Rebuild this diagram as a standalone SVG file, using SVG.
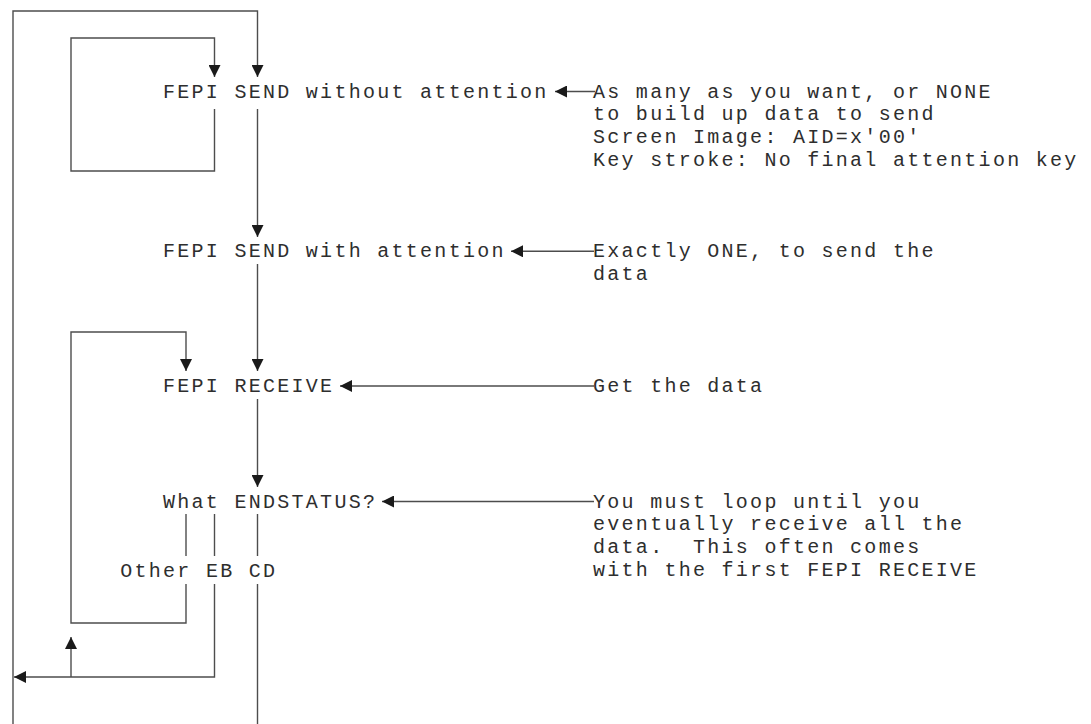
<svg xmlns="http://www.w3.org/2000/svg" width="1091" height="724" viewBox="0 0 1091 724">
<defs>
<style>
text{font-family:"Liberation Mono","DejaVu Sans Mono",monospace;font-size:20px;letter-spacing:2.28px;fill:#2e2e2e;white-space:pre}
.c{fill:none;stroke:#4d4d4d;stroke-width:1.4}
.a{marker-end:url(#ah)}
</style>
<marker id="ah" markerUnits="userSpaceOnUse" viewBox="0 0 12 12" refX="12" refY="6" markerWidth="12" markerHeight="12" orient="auto">
<path d="M0,0 L12,6 L0,12 z" fill="#1a1a1a"/>
</marker>
</defs>
<rect width="1091" height="724" fill="#ffffff"/>
<g id="connectors">
<path class="c a" d="M13,724 V11 H257.5 V77"/>
<path class="c a" d="M214.5,109 V171 H71 V38 H214.5 V77"/>
<path class="c a" d="M257.5,109 V237"/>
<path class="c a" d="M257.5,264 V371"/>
<path class="c a" d="M257.5,399 V487"/>
<path class="c" d="M186,514 V556"/>
<path class="c" d="M214.5,514 V556"/>
<path class="c" d="M257.5,514 V556"/>
<path class="c a" d="M186,584 V623 H71 V332 H186 V371"/>
<path class="c a" d="M214.5,584 V677 H14"/>
<path class="c a" d="M71,677 V637"/>
<path class="c" d="M257.5,584 V724"/>
<path class="c a" d="M595,91.5 H555"/>
<path class="c a" d="M594,251.3 H511"/>
<path class="c a" d="M594,386 H340"/>
<path class="c a" d="M594,501.5 H382"/>
</g>
<g id="node-send-without">
<text x="163" y="97.5">FEPI SEND without attention</text>
</g>
<g id="node-send-with">
<text x="163" y="257.3">FEPI SEND with attention</text>
</g>
<g id="node-receive">
<text x="163" y="392">FEPI RECEIVE</text>
</g>
<g id="node-endstatus">
<text x="163" y="507.5">What ENDSTATUS?</text>
</g>
<g id="node-branches">
<text x="120.2" y="576.5">Other EB CD</text>
</g>
<g id="note-send-without">
<text x="593" y="97.5">As many as you want, or NONE</text>
<text x="593" y="120.3">to build up data to send</text>
<text x="593" y="143.1">Screen Image: AID=x'00'</text>
<text x="593" y="165.9">Key stroke: No final attention key</text>
</g>
<g id="note-send-with">
<text x="593" y="257.3">Exactly ONE, to send the</text>
<text x="593" y="280.1">data</text>
</g>
<g id="note-receive">
<text x="593" y="392">Get the data</text>
</g>
<g id="note-endstatus">
<text x="593" y="507.5">You must loop until you</text>
<text x="593" y="530.3">eventually receive all the</text>
<text x="593" y="553.1">data.  This often comes</text>
<text x="593" y="575.9">with the first FEPI RECEIVE</text>
</g>
</svg>
